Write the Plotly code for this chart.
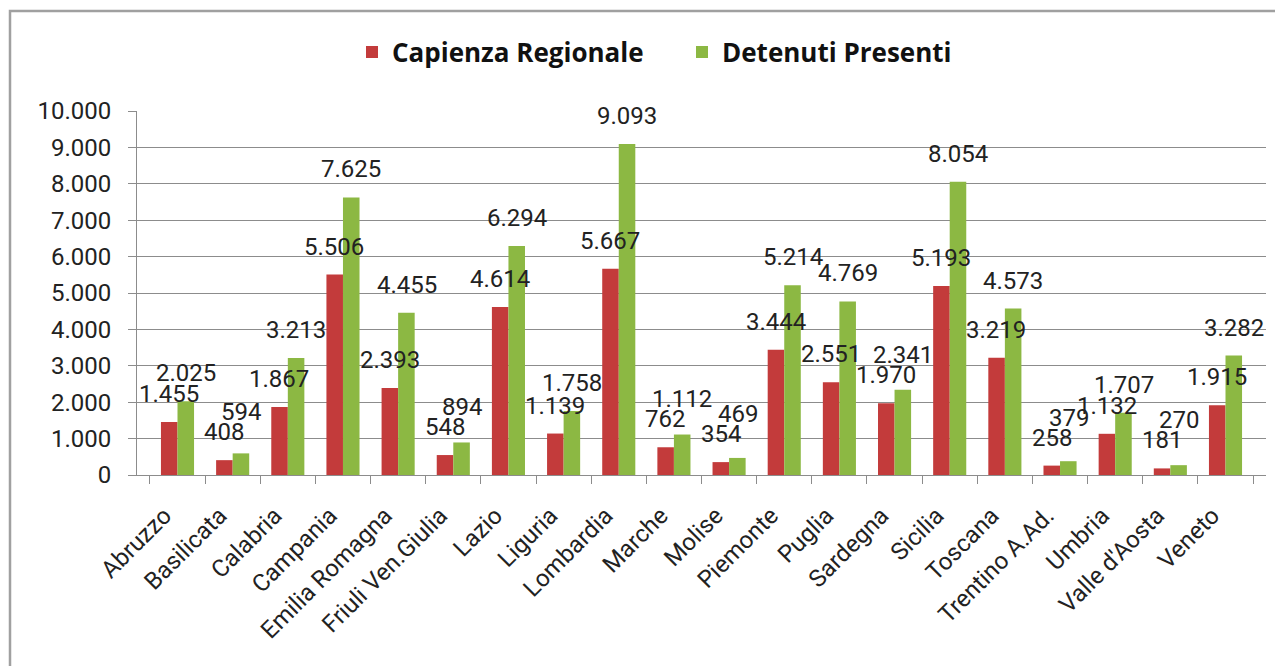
import plotly.graph_objects as go

regioni = ["Abruzzo", "Basilicata", "Calabria", "Campania", "Emilia Romagna",
           "Friuli Ven.Giulia", "Lazio", "Liguria", "Lombardia", "Marche",
           "Molise", "Piemonte", "Puglia", "Sardegna", "Sicilia", "Toscana",
           "Trentino A.Ad.", "Umbria", "Valle d'Aosta", "Veneto"]
capienza = [1455, 408, 1867, 5506, 2393, 548, 4614, 1139, 5667, 762,
            354, 3444, 2551, 1970, 5193, 3219, 258, 1132, 181, 1915]
detenuti = [2025, 594, 3213, 7625, 4455, 894, 6294, 1758, 9093, 1112,
            469, 5214, 4769, 2341, 8054, 4573, 379, 1707, 270, 3282]
y_ticks = list(range(0, 10001, 1000))

RED = "#C33B3B"
GREEN = "#8CB843"
GRID = "#8C8C8C"
FONT = "Roboto"

# figure is drawn inside the page's 8px body margin
W, H = 1275, 658
M = dict(l=129, r=17, t=103, b=191)
plot_h = H - M["t"] - M["b"]
px_per_unit = plot_h / 10000

LABEL_GAP = 12     # px between bar top and its label box
LABEL_H = 22       # rough height of a label box


def it_fmt(v):
    # Italian thousands separator
    return f"{v:,}".replace(",", ".")


fig = go.Figure()
fig.add_trace(go.Bar(x=regioni, y=capienza, name="<b>Capienza Regionale</b>",
                     marker=dict(color=RED, line=dict(width=0))))
fig.add_trace(go.Bar(x=regioni, y=detenuti, name="<b>Detenuti Presenti</b>",
                     marker=dict(color=GREEN, line=dict(width=0))))

# Data labels float above the bars; the green one is lifted when it would hit the red one
annotations = []
for reg, c, d in zip(regioni, capienza, detenuti):
    red_top = c * px_per_unit + LABEL_GAP + LABEL_H
    green_shift = max(LABEL_GAP, red_top - d * px_per_unit - 2)
    for val, xs, ys in ((c, -8.5, LABEL_GAP), (d, 8.5, green_shift)):
        annotations.append(dict(x=reg, y=val, text=it_fmt(val), showarrow=False,
                                xshift=xs, yshift=ys, yanchor="bottom",
                                font=dict(family=FONT, size=24, color="#222222")))

fig.update_layout(
    width=W, height=H,
    barmode="group", bargap=0.4, bargroupgap=0,
    paper_bgcolor="white", plot_bgcolor="white",
    margin=M,
    font=dict(family=FONT, size=24, color="#222222"),
    legend=dict(orientation="h", xref="container", yref="container",
                x=(364 - 8 - 12) / W, xanchor="left", y=0.933, yanchor="middle",
                font=dict(family="Open Sans", size=26, color="#111111"),
                itemwidth=30, entrywidth=285, entrywidthmode="pixels",
                traceorder="normal"),
    annotations=annotations,
    shapes=[dict(type="rect", xref="paper", yref="paper",
                 x0=-127 / 1129, x1=1300 / 1129, y0=-0.6, y1=1 + 100 / plot_h,
                 line=dict(color="#A0A0A0", width=2.5), layer="below")],
)

fig.update_xaxes(showline=True, linecolor=GRID, linewidth=1,
                 ticks="outside", tickson="boundaries", ticklen=8, tickcolor=GRID,
                 tickangle=-45, ticklabelstandoff=16, ticklabelshift=-13,
                 tickfont=dict(family=FONT, size=24, color="#222222"),
                 showgrid=False)
fig.update_yaxes(range=[0, 10000], tickvals=y_ticks,
                 ticktext=[it_fmt(v) for v in y_ticks],
                 showline=True, linecolor=GRID, linewidth=1,
                 ticks="outside", ticklen=8, tickcolor=GRID, ticklabelstandoff=12,
                 showgrid=True, gridcolor=GRID, gridwidth=1, zeroline=False,
                 tickfont=dict(family=FONT, size=24, color="#222222"))

fig.write_html("out.html")
